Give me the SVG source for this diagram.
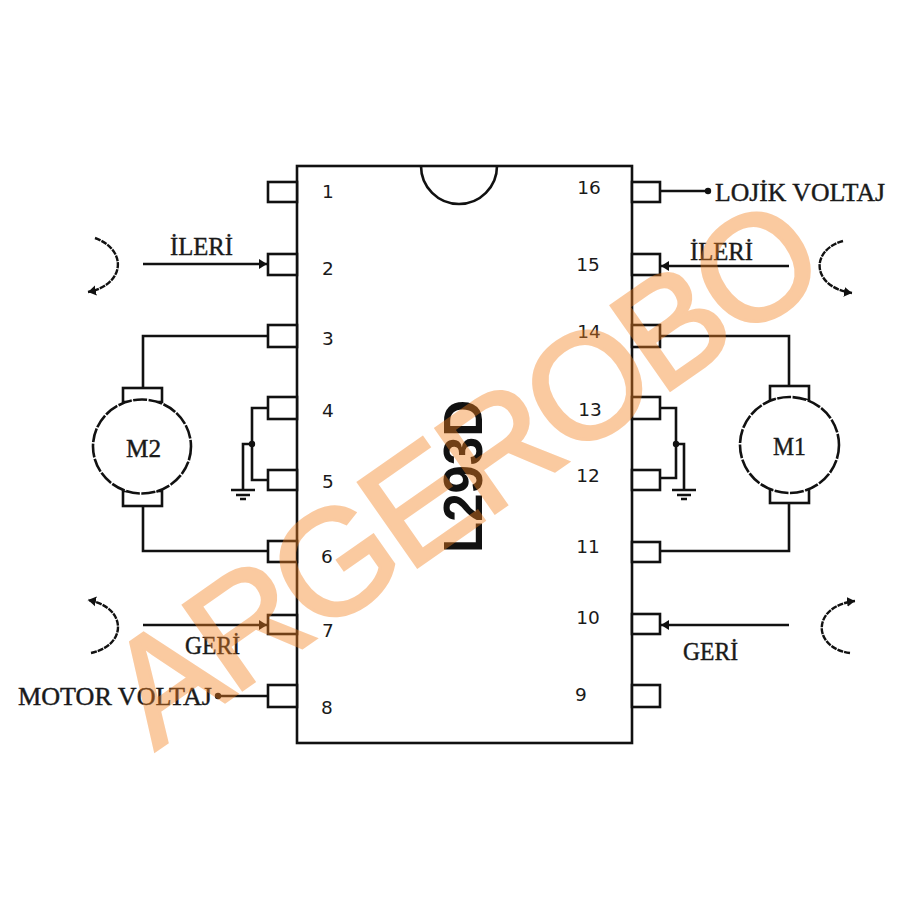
<svg xmlns="http://www.w3.org/2000/svg" width="900" height="900" viewBox="0 0 900 900">
<defs>
<marker id="ah" markerUnits="userSpaceOnUse" markerWidth="10" markerHeight="12" refX="8" refY="6" orient="auto"><path d="M0 1L8 6L0 11Z" fill="#111"/></marker>
</defs>
<style>
.l{fill:none;stroke:#111;stroke-width:2.6}
.p{fill:#fff;stroke:#111;stroke-width:2.6}
.a{fill:none;stroke:#111;stroke-width:2.4;stroke-dasharray:6 1}
.s{font-family:"Liberation Serif",serif;font-size:24.5px;fill:#1a1a1a;stroke:#1a1a1a;stroke-width:.4}
.n{font-family:"DejaVu Sans",sans-serif;font-size:18.5px;fill:#1a1a1a;text-anchor:middle}
.d{fill:#111}
</style>
<rect width="900" height="900" fill="#fff"/>
<g id="connectors">
<path class="l" marker-end="url(#ah)" d="M143 264H267"/>
<path class="l" marker-end="url(#ah)" d="M789 266H661"/>
<path class="l" marker-end="url(#ah)" d="M143 625H267"/>
<path class="l" marker-end="url(#ah)" d="M789 625H661"/>
<path class="l" d="M268 336H143V388"/>
<path class="l" d="M143 506V551H268"/>
<path class="l" d="M660 336H789V385"/>
<path class="l" d="M789 503V551H660"/>
<path class="l" d="M268 408H252V480H268"/>
<path class="l" d="M660 408H676V478H660"/>
<path class="l" d="M252 444H243V490"/>
<path class="l" d="M676 444H684V490"/>
<path class="l" d="M660 191H708"/>
<path class="l" d="M268 696H217"/>
<circle class="d" cx="252" cy="444" r="3.200"/>
<circle class="d" cx="676" cy="444" r="3.200"/>
<circle class="d" cx="708" cy="191" r="3.200"/>
<circle class="d" cx="218" cy="696" r="3.200"/>
</g>
<g id="grounds">
<path class="l" d="M231 490H255M236 495H250M240 499H246"/>
<path class="l" d="M672 490H696M677 495H691M681 499H687"/>
</g>
<g id="rotation-arrows">
<path class="a" marker-end="url(#ah)" d="M95 238C128 250 125 285 88 292"/>
<path class="a" marker-end="url(#ah)" d="M91 653C128 645 127 607 88 600"/>
<path class="a" marker-end="url(#ah)" d="M843 241C810 250 811 287 852 293"/>
<path class="a" marker-end="url(#ah)" d="M850 653C812 648 811 606 855 601"/>
</g>
<g id="motor-m2">
<rect class="p" x="123" y="388" width="39" height="14"/>
<rect class="p" x="123" y="491" width="39" height="15"/>
<ellipse class="p" cx="142" cy="446.500" rx="49" ry="47" stroke-dasharray="14 1.500"/>
<text class="s" x="126" y="457" textLength="35" lengthAdjust="spacingAndGlyphs">M2</text>
</g>
<g id="motor-m1">
<rect class="p" x="770" y="386" width="39" height="14"/>
<rect class="p" x="770" y="489" width="39" height="14"/>
<ellipse class="p" cx="789.500" cy="445" rx="49.500" ry="48" stroke-dasharray="14 1.500"/>
<text class="s" x="773" y="455" textLength="33" lengthAdjust="spacingAndGlyphs">M1</text>
</g>
<g id="ic-l293d">
<rect class="p" x="297" y="166" width="335" height="577"/>
<path class="l" d="M421 166A38 38 0 0 0 497 166"/>
<text x="0" y="0" transform="translate(482 553) rotate(-90)" font-family="Liberation Sans, sans-serif" font-weight="700" font-size="55" textLength="153" lengthAdjust="spacingAndGlyphs" fill="#111">L293D</text>
</g>
<g id="pins-left">
<rect class="p" x="268" y="182" width="29" height="20"/>
<rect class="p" x="268" y="254" width="29" height="21"/>
<rect class="p" x="268" y="325" width="29" height="22"/>
<rect class="p" x="268" y="397" width="29" height="22"/>
<rect class="p" x="268" y="470" width="29" height="20"/>
<rect class="p" x="268" y="541" width="29" height="21"/>
<rect class="p" x="268" y="615" width="29" height="19"/>
<rect class="p" x="268" y="685" width="29" height="22"/>
<text class="n" x="328" y="198">1</text>
<text class="n" x="328" y="275">2</text>
<text class="n" x="328" y="345">3</text>
<text class="n" x="328" y="417">4</text>
<text class="n" x="328" y="488">5</text>
<text class="n" x="327" y="563">6</text>
<text class="n" x="328" y="637">7</text>
<text class="n" x="327" y="714">8</text>
</g>
<g id="pins-right">
<rect class="p" x="632" y="182" width="28" height="20"/>
<rect class="p" x="632" y="254" width="28" height="21"/>
<rect class="p" x="632" y="325" width="28" height="22"/>
<rect class="p" x="632" y="397" width="28" height="22"/>
<rect class="p" x="632" y="470" width="28" height="20"/>
<rect class="p" x="632" y="542" width="28" height="20"/>
<rect class="p" x="632" y="614" width="28" height="20"/>
<rect class="p" x="632" y="685" width="28" height="22"/>
<text class="n" x="589" y="194">16</text>
<text class="n" x="588" y="271">15</text>
<text class="n" x="589" y="338">14</text>
<text class="n" x="590" y="416">13</text>
<text class="n" x="588" y="482">12</text>
<text class="n" x="588" y="553">11</text>
<text class="n" x="588" y="624">10</text>
<text class="n" x="581" y="701">9</text>
</g>
<g id="labels">
<text class="s" x="170" y="255" textLength="63" lengthAdjust="spacingAndGlyphs">İLERİ</text>
<text class="s" x="690" y="260" textLength="63" lengthAdjust="spacingAndGlyphs">İLERİ</text>
<text class="s" x="185" y="654" textLength="55" lengthAdjust="spacingAndGlyphs">GERİ</text>
<text class="s" x="683" y="660" textLength="55" lengthAdjust="spacingAndGlyphs">GERİ</text>
<text class="s" x="18" y="705" textLength="194" lengthAdjust="spacingAndGlyphs">MOTOR VOLTAJ</text>
<text class="s" x="715" y="201" textLength="170" lengthAdjust="spacingAndGlyphs">LOJİK VOLTAJ</text>
</g>
<text id="watermark" transform="translate(155 751) rotate(-35)" font-family="Liberation Sans, sans-serif" font-size="150" textLength="828" fill="#f58220" stroke="#f58220" stroke-width="3" opacity=".42">ARGEROBO</text>
</svg>
